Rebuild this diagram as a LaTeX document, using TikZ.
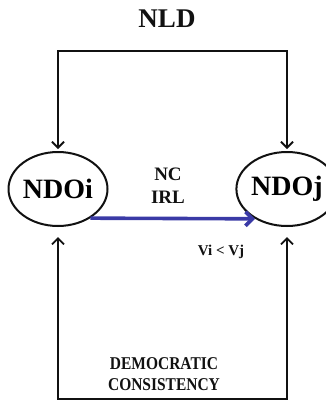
\documentclass[tikz,border=0pt]{standalone}
\usepackage{fontspec}
\setmainfont{Liberation Serif}
\usepackage{xcolor}
\usepackage{tikz}
\usetikzlibrary{arrows.meta,positioning,shapes.geometric}
\definecolor{ink}{HTML}{111111}
\definecolor{flowblue}{HTML}{3A3AA6}
\tikzset{
  org/.style={ellipse,draw=ink,line width=2pt,minimum width=86pt,minimum height=74pt,
    inner sep=0pt,font=\bfseries\fontsize{28}{28}\selectfont},
  tag/.style={font=\bfseries,text=ink,align=center,inner sep=0pt},
  loop/.style={{Straight Barb[length=6pt,width=12pt]}-{Straight Barb[length=6pt,width=12pt]},
    line width=1.8pt,draw=ink},
  flow/.style={-{Straight Barb[length=7pt,width=14pt]},line width=3.6pt,draw=flowblue}
}
\begin{document}
\begin{tikzpicture}[x=1pt,y=-1pt]
\useasboundingbox (0,0) rectangle (325,402);
\node[tag,font=\bfseries\fontsize{27}{27}\selectfont] (nld) at (167,19) {NLD};
\node[org] (ndoi) at (58,189) {NDOi};
\node[org] (ndoj) at (287,189) {NDOj};
\node[tag,font=\bfseries\fontsize{19}{23}\selectfont] (ncirl) at (168,186) {NC\\IRL};
\node[tag,font=\bfseries\fontsize{15}{15}\selectfont] (vivj) at (221,252) {Vi < Vj};
\node[tag,font=\bfseries\fontsize{18}{21}\selectfont,xscale=0.86] (dc) at (164,374) {DEMOCRATIC\\CONSISTENCY};
\coordinate (top) at (0,51);
\coordinate (bot) at (0,399);
% loops above and below
\draw[loop,shorten <=2pt,shorten >=2pt] (ndoi.north) -- (ndoi.north |- top) -- (ndoj.north |- top) -- (ndoj.north);
\draw[loop,shorten <=10pt,shorten >=10pt] (ndoi.south) -- (ndoi.south |- bot) -- (ndoj.south |- bot) -- (ndoj.south);
\draw[flow] (ndoi.-42.5) -- (ndoj.-137.5);
\end{tikzpicture}
\end{document}
